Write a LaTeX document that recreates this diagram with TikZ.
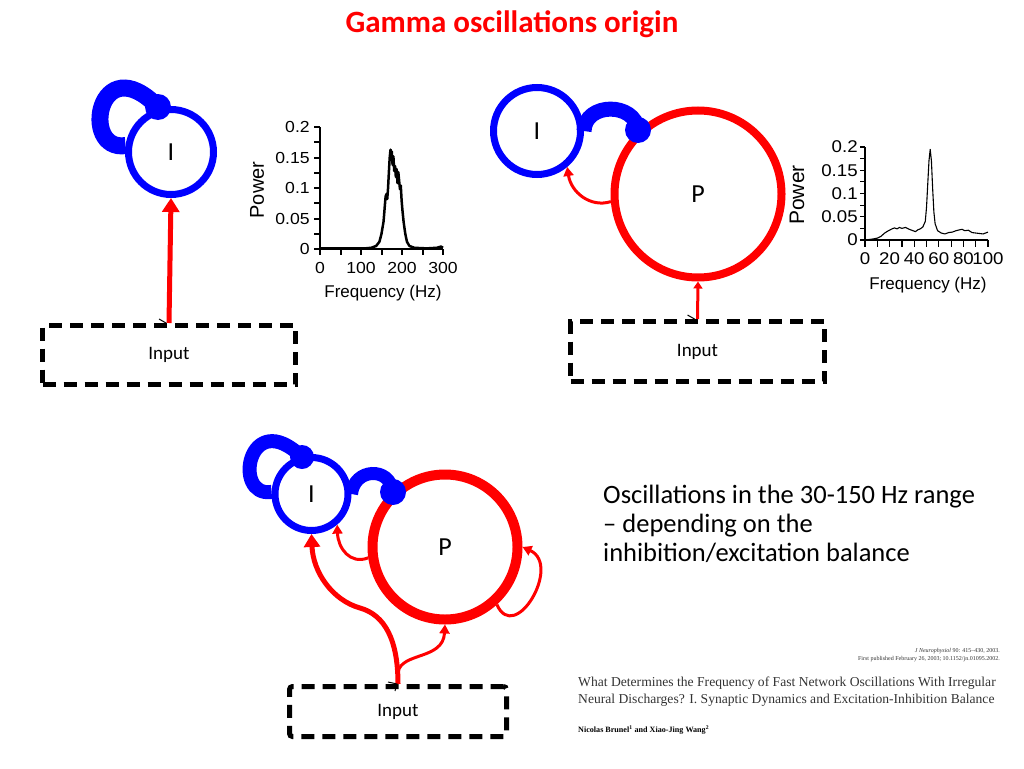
\documentclass[tikz,border=0pt]{standalone}
\usepackage{fontspec}
\setmainfont{Carlito}
\newfontfamily\plotfont{Liberation Sans}
\newfontfamily\paperfont{Liberation Serif}
\usetikzlibrary{arrows.meta}

\begin{document}
\begin{tikzpicture}[x=1pt, y=-1pt,
    cellI/.style={circle, draw=blue, line width=7pt, inner sep=0pt, font=\fontsize{26}{26}\selectfont},
    cellP/.style={circle, draw=red, inner sep=0pt, font=\fontsize{26}{26}\selectfont},
    syn/.style={circle, fill=blue, inner sep=0pt},
    inh/.style={blue, line width=15pt},
    exc/.style={red, line width=3pt, -{Triangle[length=9pt, width=10pt]}},
    excbig/.style={red, line width=5pt, -{Triangle[length=14pt, width=17pt]}},
    inbox/.style={draw, line width=5pt, dash pattern=on 13pt off 8pt, font=\fontsize{19}{19}\selectfont},
    ticklab/.style={font=\plotfont\fontsize{16}{16}\selectfont, inner sep=1pt, xscale=1.1},
    axlab/.style={font=\plotfont\fontsize{17}{17}\selectfont, inner sep=1pt},
    tickmark/.style={black, line width=1pt}
  ]
  \useasboundingbox (0,0) rectangle (1024,768);

  \node[red, font=\bfseries\fontsize{31}{31}\selectfont] (title) at (512,24) {Gamma oscillations origin};

  % I network alone
  \node[cellI, minimum size=85pt] (I1) at (171,152) {I};
  \node[syn, minimum size=26pt] (s1) at (158,107) {};
  \node[inbox, minimum width=253pt, minimum height=59pt] (in1) at (169,355) {Input};
  \draw[inh, line width=17pt] (I1.172) .. controls (80,152) and (98,46) .. (s1.center);
  \draw[excbig] (in1.north) -- (I1.south);
  \draw[tickmark] ([xshift=-10pt,yshift=4pt]in1.north) -- ([xshift=-3pt]in1.north) -- ([xshift=-4pt,yshift=-3pt]in1.north);

  \begin{scope}[shift={(320,249)}, x=0.41pt, y=610pt]
    \draw[line width=2.5pt] (0,0.2) -- (0,0) -- (300,0);
    \foreach \k in {0,...,8}
      \draw[line width=2pt] (0,{\k*0.025}) -- ++(-6pt,0);
    \foreach \f in {0,50,...,300}
      \draw[line width=2pt] (\f,0) -- ++(0,-6pt);
    \foreach \v/\t in {0/0,0.05/0.05,0.1/0.1,0.15/0.15,0.2/0.2}
      \node[ticklab, anchor=east] (ya\t) at ([xshift=-9pt]0,\v) {\t};
    \foreach \f in {0,100,200,300}
      \node[ticklab, anchor=north] (xa\f) at ([yshift=-12pt]\f,0) {\f};
    \draw[line width=2.5pt, line join=round] plot coordinates {(0,0.001) (60,0.001) (110,0.001) (125,0.002)
      (137,0.005) (145,0.012) (150,0.025) (155,0.045) (158,0.07) (160,0.086) (162,0.09) (164,0.082)
      (166,0.1) (168,0.126) (170,0.15) (172,0.163) (173,0.148) (175,0.16) (177,0.138) (179,0.152)
      (181,0.128) (183,0.136) (185,0.118) (187,0.131) (189,0.108) (191,0.126) (193,0.112) (195,0.098)
      (197,0.104) (199,0.08) (201,0.064) (204,0.044) (208,0.025) (212,0.012) (218,0.005) (230,0.002)
      (260,0.001) (285,0.002) (295,0.004) (300,0.002)};
  \end{scope}
  \node[axlab, font=\plotfont\fontsize{20}{20}\selectfont, rotate=90] (pw1) at (257,190) {Power};
  \node[axlab] (fq1) at (383,293) {Frequency (Hz)};

  % I and P network
  \node[cellI, minimum size=87pt] (I2) at (537,131) {I};
  \node[cellP, line width=8pt, minimum size=167pt] (P2) at (698,194) {P};
  \node[syn, minimum size=26pt] (s2) at (638,130) {};
  \node[inbox, minimum width=254pt, minimum height=60pt] (in2) at (697.5,351.5) {Input};
  \draw[inh] (I2.east) .. controls (585,102) and (635,102) .. (s2.center);
  \draw[exc] (P2.185) .. controls (590,208) and (571,192) .. (I2.-50);
  \draw[exc, -{Triangle[length=7pt, width=9pt]}] (in2.north) -- (P2.south);
  \draw[tickmark] ([xshift=-10pt,yshift=4pt]in2.north) -- ([xshift=-3pt]in2.north) -- ([xshift=-4pt,yshift=-3pt]in2.north);

  \begin{scope}[shift={(865,240)}, x=1.23pt, y=465pt]
    \draw[line width=1.5pt] (0,0.2) -- (0,0) -- (100,0);
    \foreach \k in {0,...,8}
      \draw[line width=1.2pt] (0,{\k*0.025}) -- ++(-5pt,0);
    \foreach \f in {0,10,...,100}
      \draw[line width=1.2pt] (\f,0) -- ++(0,-7pt);
    \foreach \v/\t in {0/0,0.05/0.05,0.1/0.1,0.15/0.15,0.2/0.2}
      \node[ticklab, font=\plotfont\fontsize{17}{17}\selectfont, anchor=east] (yb\t) at ([xshift=-6pt]0,\v) {\t};
    \foreach \f in {0,20,...,100}
      \node[ticklab, font=\plotfont\fontsize{17}{17}\selectfont, anchor=north] (xb\f) at ([yshift=-11pt]\f,0) {\f};
    \draw[line width=1.1pt, line join=round] plot coordinates {(3,0.001) (6,0.002) (10,0.004) (13,0.008)
      (16,0.015) (19,0.02) (22,0.024) (24,0.026) (26,0.024) (28,0.027) (30,0.025) (33,0.027) (36,0.023)
      (39,0.02) (41,0.018) (43,0.022) (45,0.024) (47,0.028) (49,0.04) (50,0.07) (51,0.12) (52,0.17)
      (53,0.195) (54,0.17) (55,0.11) (56,0.06) (57,0.035) (59,0.02) (62,0.015) (65,0.013) (68,0.016)
      (71,0.017) (74,0.02) (77,0.022) (79,0.023) (81,0.02) (84,0.021) (87,0.016) (90,0.015) (93,0.014)
      (96,0.013) (98,0.015) (100,0.017)};
  \end{scope}
  \node[axlab, font=\plotfont\fontsize{21}{21}\selectfont, rotate=90] (pw2) at (797,195) {Power};
  \node[axlab] (fq2) at (928,285) {Frequency (Hz)};

  % full network
  \node[cellI, minimum size=73pt] (I3) at (311.5,494) {I};
  \node[cellP, line width=10pt, minimum size=145pt] (P3) at (445,547) {P};
  \node[syn, minimum size=24pt] (s3) at (302,457) {};
  \node[syn, minimum size=26pt] (s4) at (393,492) {};
  \node[inbox, rounded corners=3pt, minimum width=217pt, minimum height=50pt] (in3) at (398,711.5) {Input};
  \coordinate (fork) at (398,672);
  \draw[inh, line width=14pt] (I3.177) .. controls (232,498) and (248,405) .. (s3.center);
  \draw[inh, line width=13pt] (I3.east) .. controls (354,468) and (390,466) .. (s4.center);
  \draw[exc] (P3.188) .. controls (350,565) and (338,548) .. (I3.-50);
  \draw[exc] (P3.-48) .. controls (515,645) and (562,565) .. (P3.east);
  \draw[excbig, -{Triangle[length=13pt, width=16pt]}] (in3.north) .. controls (398,640) and (385,615) .. (360,608)
    .. controls (332,600) and (313,572) .. (I3.south);
  \draw[exc] (fork) .. controls (402,652) and (443,660) .. (P3.south);
  \draw[tickmark] ([xshift=-10pt,yshift=2pt]in3.north) -- ([xshift=-1pt]in3.north) -- ([xshift=-3pt,yshift=-7pt]in3.north);

  \node[anchor=north west, align=left, inner sep=0pt, font=\fontsize{26.5}{29}\selectfont] (note) at (603,485)
    {Oscillations in the 30-150 Hz range\\– depending on the\\inhibition/excitation balance};

  \node[anchor=east, align=right, inner sep=0pt, text=black!80, font=\paperfont\fontsize{6}{7.5}\selectfont] (jn) at (1000,655)
    {\textit{J Neurophysiol} 90: 415–430, 2003.\\First published February 26, 2003; 10.1152/jn.01095.2002.};
  \node[anchor=west, align=left, inner sep=0pt, text=black!80, font=\paperfont\fontsize{13.6}{17}\selectfont] (paper) at (578,692)
    {What Determines the Frequency of Fast Network Oscillations With Irregular\\Neural Discharges? I. Synaptic Dynamics and Excitation-Inhibition Balance};
  \node[anchor=west, inner sep=0pt, font=\paperfont\bfseries\fontsize{8.1}{9}\selectfont] (auth) at (578,730)
    {Nicolas Brunel\textsuperscript{1} and Xiao-Jing Wang\textsuperscript{2}};
\end{tikzpicture}
\end{document}
